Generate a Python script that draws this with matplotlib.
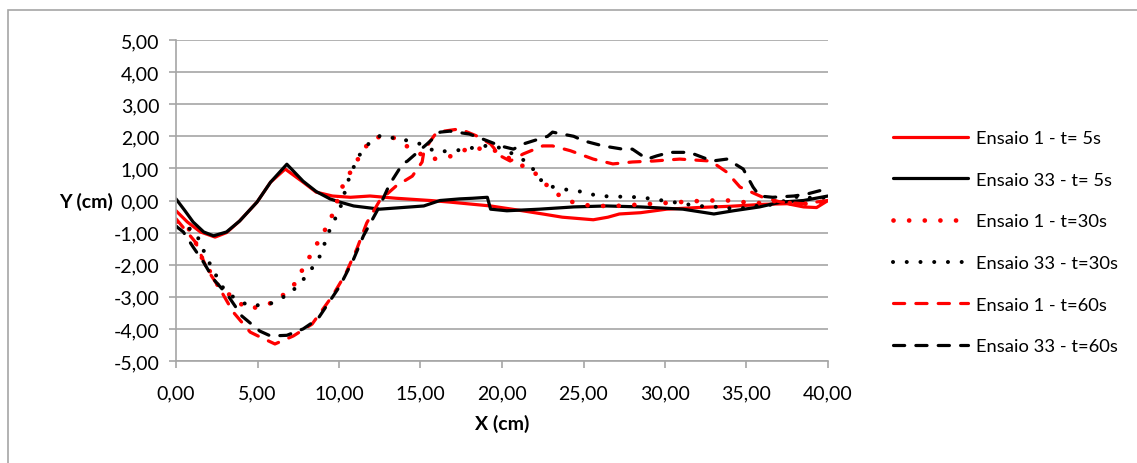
import matplotlib.pyplot as plt
from matplotlib.ticker import FuncFormatter
from matplotlib.patches import Rectangle

plt.rcParams['font.family'] = ['Lato', 'DejaVu Sans']

# Ensaio 1 - t= 5s
x_e1_t5 = [0, 0.7, 1.5, 2.4, 3.1, 3.9, 4.97, 5.8, 6.7, 7.8, 8.6, 9.6, 10.7, 11.9, 13.5, 15.6, 16.8, 19.3, 21,
           22.5, 23.7, 25.6, 26.5, 27.2, 28.5, 30.1, 32, 34, 36, 37.5, 38.5, 39.3, 40]
y_e1_t5 = [-0.32, -0.67, -0.98, -1.14, -1.0, -0.64, -0.05, 0.57, 0.98, 0.57, 0.26, 0.14, 0.1, 0.14, 0.07, 0.0,
           -0.05, -0.17, -0.3, -0.42, -0.52, -0.6, -0.52, -0.42, -0.38, -0.27, -0.22, -0.18, -0.12, -0.1, -0.2,
           -0.22, 0.0]

# Ensaio 33 - t= 5s
x_e33_t5 = [0, 0.55, 1.05, 1.7, 2.3, 3.1, 3.9, 4.97, 5.8, 6.8, 7.8, 8.6, 9.45, 10.06, 10.9, 12.5, 14.4, 15.2,
            16.2, 17.4, 18.2, 19.1, 19.3, 20.3, 22.3, 24.4, 26.4, 28.5, 31.1, 33, 34.2, 35.8, 37.1, 38.5, 40]
y_e33_t5 = [0.05, -0.32, -0.67, -0.98, -1.1, -0.98, -0.64, -0.05, 0.57, 1.13, 0.6, 0.28, 0.05, -0.05, -0.17,
            -0.27, -0.2, -0.17, 0.0, 0.05, 0.07, 0.1, -0.27, -0.32, -0.27, -0.2, -0.17, -0.2, -0.27, -0.42,
            -0.32, -0.2, -0.05, 0.0, 0.14]

# Ensaio 1 - t=30s
x_e1_t30 = [0, 0.7, 1.2, 1.7, 2.2, 2.7, 3.4, 4.35, 5.35, 6.18, 7.2, 8.4, 9.45, 10.2, 10.8, 11.1, 11.5, 12.1,
            12.6, 13.3, 13.9, 14.7, 15.3, 16, 16.7, 17.4, 18.1, 18.8, 19.6, 20.2, 20.7, 21.3, 21.9, 22.8, 23.4,
            24, 24.7, 25.5, 27, 29.3, 30.9, 32.6, 34, 34.8, 35.6, 36.4, 38, 39, 40]
y_e1_t30 = [-0.67, -0.8, -1.3, -1.92, -2.3, -2.76, -2.97, -3.38, -3.29, -3.12, -2.66, -1.57, -0.64, 0.42, 0.98,
            1.23, 1.6, 1.92, 2.0, 1.97, 1.76, 1.55, 1.35, 1.29, 1.35, 1.5, 1.66, 1.6, 1.55, 1.39, 1.23, 1.07,
            0.92, 0.45, 0.2, 0.0, -0.1, -0.17, -0.17, -0.1, -0.05, 0.0, 0.0, -0.05, -0.1, 0.0, -0.1, -0.1, 0.0]

# Ensaio 33 - t=30s
x_e33_t30 = [0, 1.0, 1.3, 1.9, 2.8, 3.2, 3.9, 4.54, 5.77, 7.0, 8.1, 8.83, 9.45, 10.06, 10.55, 11.1, 11.5, 12.0,
             12.6, 13.3, 13.9, 14.8, 15.4, 16.0, 16.7, 17.4, 18.1, 18.6, 19.5, 20.1, 20.9, 21.7, 22.3, 22.9,
             23.7, 24.4, 25.2, 25.8, 27.2, 28.5, 29.2, 30.5, 32, 33.2, 34.4, 35.6, 36.4, 37.1, 38.3, 39.2, 40]
y_e33_t30 = [-0.82, -0.89, -1.1, -1.8, -2.66, -2.9, -3.13, -3.29, -3.22, -2.9, -2.3, -1.73, -0.89, -0.26, 0.6,
             1.29, 1.6, 1.86, 2.04, 1.95, 1.9, 1.8, 1.66, 1.5, 1.55, 1.57, 1.63, 1.7, 1.7, 1.6, 1.39, 1.14, 0.67,
             0.45, 0.36, 0.3, 0.26, 0.14, 0.12, 0.1, 0.05, -0.05, -0.17, -0.2, -0.27, -0.17, -0.14, -0.05, 0.15,
             0.05, 0.1]

# Ensaio 1 - t=60s
x_e1_t60 = [0, 1.2, 1.9, 2.7, 3.5, 4.55, 5.15, 6.07, 7.2, 8.35, 9.6, 10.4, 11.1, 11.7, 12.5, 13.5, 14.5, 15.1,
            15.2, 15.6, 16.0, 17.4, 18.5, 19.3, 19.9, 20.5, 21.3, 22.5, 23.1, 24.2, 25.6, 26.8, 28, 29.3, 30.9,
            32.8, 33.8, 34.6, 36.0, 37.1, 38.5, 40]
y_e1_t60 = [-0.57, -1.3, -2.13, -2.76, -3.47, -4.1, -4.25, -4.47, -4.22, -3.85, -2.97, -2.29, -1.5, -0.7, 0.0,
            0.45, 0.76, 1.2, 1.5, 1.85, 2.13, 2.23, 2.0, 1.76, 1.39, 1.23, 1.45, 1.7, 1.7, 1.55, 1.29, 1.14, 1.2,
            1.23, 1.29, 1.23, 0.88, 0.42, 0.1, -0.05, -0.1, 0.0]

# Ensaio 33 - t=60s
x_e33_t60 = [0, 0.45, 1.05, 1.7, 2.3, 3.2, 4.04, 5.15, 5.8, 6.8, 7.8, 8.7, 10.06, 10.9, 11.5, 12.5, 13.1, 13.9,
             14.2, 15.4, 16.2, 16.8, 18.0, 19.1, 19.9, 20.7, 21.3, 22.8, 23.1, 24.4, 25.0, 26.2, 27.4, 28.0,
             28.9, 29.5, 30.3, 31.5, 32.9, 33.8, 34.8, 35.4, 35.8, 36.6, 37.9, 38.7, 39.9]
y_e33_t60 = [-0.8, -0.98, -1.45, -1.93, -2.45, -2.97, -3.6, -4.07, -4.22, -4.2, -4.0, -3.69, -2.66, -1.82, -1.1,
             -0.17, 0.5, 1.14, 1.23, 1.76, 2.13, 2.16, 2.07, 1.86, 1.7, 1.6, 1.76, 2.0, 2.13, 2.0, 1.86, 1.7, 1.6,
             1.6, 1.29, 1.39, 1.5, 1.5, 1.23, 1.29, 0.98, 0.42, 0.14, 0.1, 0.14, 0.2, 0.36]

labels = ['Ensaio 1 - t= 5s', 'Ensaio 33 - t= 5s', 'Ensaio 1 - t=30s',
          'Ensaio 33 - t=30s', 'Ensaio 1 - t=60s', 'Ensaio 33 - t=60s']

fig = plt.figure(figsize=(11.37, 4.64), dpi=100)
ax = fig.add_axes([176 / 1137, 1 - 362 / 464, (828 - 176) / 1137, (362 - 41) / 464])

# outer chart frame (only top and left visible in the crop)
fig.patches.append(Rectangle((8 / 1137, -0.1), 1.2, 1 - 11 / 464 + 0.1, transform=fig.transFigure,
                             fill=False, edgecolor='#a6a6a6', linewidth=1.2))

red = '#ff0000'
ax.plot(x_e1_t5, y_e1_t5, color=red, lw=2.3, label=labels[0], solid_capstyle='round', solid_joinstyle='round')
ax.plot(x_e33_t5, y_e33_t5, color='black', lw=2.3, label=labels[1], solid_capstyle='round', solid_joinstyle='round')
ax.plot(x_e1_t30, y_e1_t30, color=red, lw=3.4, ls=(0, (0.01, 3.3)), dash_capstyle='round', label=labels[2])
ax.plot(x_e33_t30, y_e33_t30, color='black', lw=2.9, ls=(0, (0.01, 3.4)), dash_capstyle='round', label=labels[3])
ax.plot(x_e1_t60, y_e1_t60, color=red, lw=2.3, ls=(0, (3.5, 3.5)), dash_capstyle='round', label=labels[4])
ax.plot(x_e33_t60, y_e33_t60, color='black', lw=2.3, ls=(0, (3.5, 3.5)), dash_capstyle='round', label=labels[5])

ax.set_xlim(0, 40)
ax.set_ylim(-5, 5)
ax.set_xticks(range(0, 41, 5))
ax.set_yticks(range(-5, 6, 1))
fmt = FuncFormatter(lambda v, p: ('%.2f' % v).replace('.', ','))
ax.xaxis.set_major_formatter(fmt)
ax.yaxis.set_major_formatter(fmt)
ax.tick_params(labelsize=14, colors='#a6a6a6', labelcolor='black', length=5, width=1.2)
ax.tick_params(axis='y', pad=7)
ax.tick_params(axis='x', pad=12)
ax.grid(axis='y', color='#a6a6a6', lw=1.2)
ax.set_axisbelow(True)
for s in ['top', 'right']:
    ax.spines[s].set_visible(False)
for s in ['left', 'bottom']:
    ax.spines[s].set_color('#a6a6a6')
    ax.spines[s].set_linewidth(1.2)

ax.set_xlabel('X (cm)', fontsize=14, fontweight='bold', labelpad=9)
ax.set_ylabel('Y (cm)', fontsize=14, fontweight='bold', rotation=0, labelpad=20, va='center')

leg = ax.legend(loc='upper left', bbox_to_anchor=(893 / 1137, 1 - 131 / 464), bbox_transform=fig.transFigure,
                frameon=False, fontsize=13.2, handlelength=4.1, handletextpad=0.4, labelspacing=1.4,
                borderaxespad=0, borderpad=0)

fig.savefig('out.png', dpi=100)
